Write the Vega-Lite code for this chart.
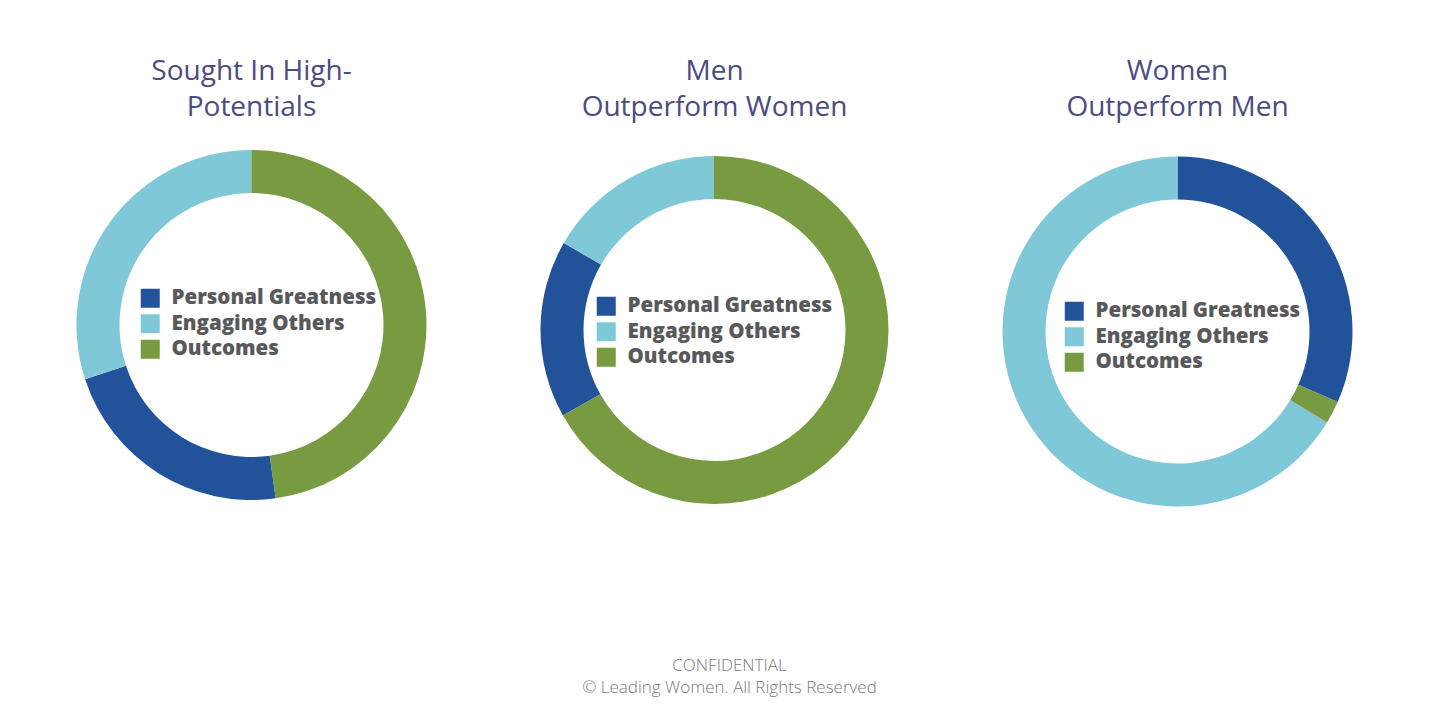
{
  "$schema": "https://vega.github.io/schema/vega-lite/v6.json",
  "background": "white",
  "padding": {"left": 20, "top": 58, "right": 0, "bottom": 6},
  "title": {
    "text": ["CONFIDENTIAL", "© Leading Women. All Rights Reserved"],
    "orient": "bottom",
    "anchor": "middle",
    "font": "Open Sans",
    "fontSize": 17,
    "fontWeight": 300,
    "color": "#7a7a7a",
    "lineHeight": 22,
    "offset": 135,
    "dx": 15
  },
  "data": {
    "values": [
      {"chart": "Sought In High-Potentials", "segment": "Personal Greatness", "value": 22.2},
      {"chart": "Sought In High-Potentials", "segment": "Engaging Others", "value": 30.0},
      {"chart": "Sought In High-Potentials", "segment": "Outcomes", "value": 47.8},
      {"chart": "Men Outperform Women", "segment": "Personal Greatness", "value": 16.5},
      {"chart": "Men Outperform Women", "segment": "Engaging Others", "value": 16.6},
      {"chart": "Men Outperform Women", "segment": "Outcomes", "value": 66.9},
      {"chart": "Women Outperform Men", "segment": "Personal Greatness", "value": 31.6},
      {"chart": "Women Outperform Men", "segment": "Engaging Others", "value": 66.3},
      {"chart": "Women Outperform Men", "segment": "Outcomes", "value": 2.1}
    ]
  },
  "spacing": 0,
  "resolve": {
    "scale": {"theta": "independent", "color": "independent"},
    "legend": {"color": "independent"}
  },
  "hconcat": [
    {
      "width": 463,
      "height": 370,
      "title": {"text": ["Sought In High-", "Potentials"]},
      "transform": [{"filter": "datum.chart === 'Sought In High-Potentials'"}],
      "mark": {"type": "arc", "outerRadius": 175, "innerRadius": 132},
      "encoding": {
        "theta": {"field": "value", "type": "quantitative", "stack": true, "scale": {"range": [4.398, 10.681]}},
        "order": {"field": "segment", "sort": "ascending"},
        "color": {
          "field": "segment",
          "type": "nominal",
          "scale": {"domain": ["Personal Greatness", "Engaging Others", "Outcomes"], "range": ["#22539A", "#7FC8D7", "#789A40"]},
          "legend": {"orient": "none", "legendX": 120, "legendY": 148, "title": null}
        }
      }
    },
    {
      "width": 463,
      "height": 380,
      "title": {"text": ["Men", "Outperform Women"]},
      "transform": [{"filter": "datum.chart === 'Men Outperform Women'"}],
      "mark": {"type": "arc", "outerRadius": 174, "innerRadius": 131},
      "encoding": {
        "theta": {"field": "value", "type": "quantitative", "stack": true, "scale": {"range": [5.236, 11.519]}},
        "order": {"field": "segment", "sort": "ascending"},
        "color": {
          "field": "segment",
          "type": "nominal",
          "scale": {"domain": ["Personal Greatness", "Engaging Others", "Outcomes"], "range": ["#22539A", "#7FC8D7", "#789A40"]},
          "legend": {"orient": "none", "legendX": 113, "legendY": 156, "title": null}
        }
      }
    },
    {
      "width": 463,
      "height": 383,
      "title": {"text": ["Women", "Outperform Men"]},
      "transform": [{"filter": "datum.chart === 'Women Outperform Men'"}],
      "mark": {"type": "arc", "outerRadius": 175, "innerRadius": 132},
      "encoding": {
        "theta": {"field": "value", "type": "quantitative", "stack": true},
        "order": {"field": "segment", "sort": "descending"},
        "color": {
          "field": "segment",
          "type": "nominal",
          "scale": {"domain": ["Personal Greatness", "Engaging Others", "Outcomes"], "range": ["#22539A", "#7FC8D7", "#789A40"]},
          "legend": {"orient": "none", "legendX": 118, "legendY": 161, "title": null}
        }
      }
    }
  ],
  "config": {
    "view": {"stroke": null},
    "title": {
      "font": "Open Sans",
      "fontSize": 28,
      "fontWeight": 400,
      "color": "#4B4C80",
      "lineHeight": 36,
      "offset": 18
    },
    "legend": {
      "symbolType": "square",
      "symbolSize": 361,
      "symbolStrokeWidth": 0,
      "symbolOpacity": 1,
      "labelFont": "Open Sans",
      "labelFontSize": 20.5,
      "labelFontWeight": 800,
      "labelColor": "#58595B",
      "labelLimit": 400,
      "labelOffset": 11,
      "rowPadding": 4.5,
      "padding": 0
    }
  }
}
